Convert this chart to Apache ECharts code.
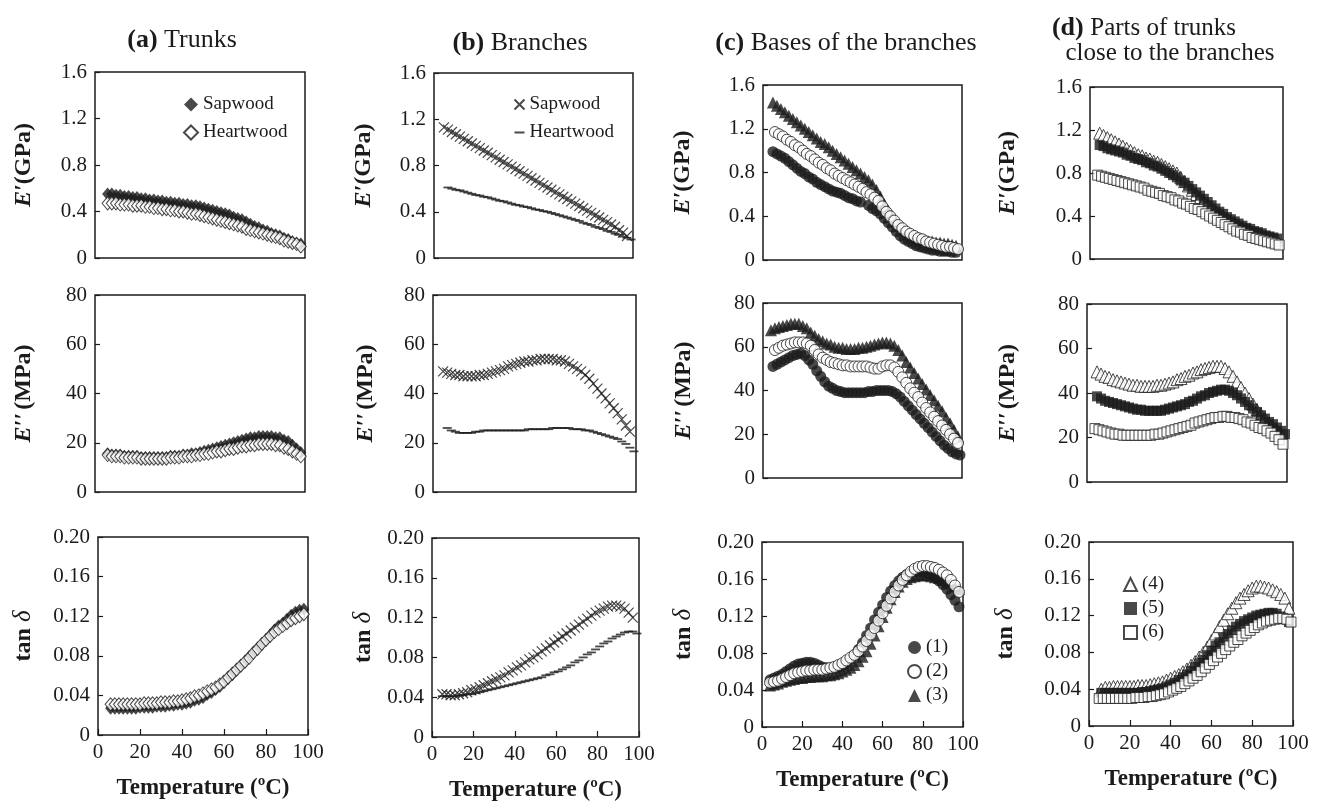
<!DOCTYPE html>
<html>
<head>
<meta charset="utf-8">
<title>Dynamic viscoelastic properties of trunks and branches</title>
<script src="https://cdn.jsdelivr.net/npm/echarts@6/dist/echarts.min.js"></script>
<style>
  html, body { margin: 0; padding: 0; background: #fff; }
  #chart { width: 1317px; height: 803px; }
</style>
</head>
<body>
<div id="chart"></div>
<script>
// temperature grids (ºC) the points were read at
const T4 = [4,6,8,10,12,14,16,18,20,22,24,26,28,30,32,34,36,38,40,42,44,46,48,50,52,54,56,58,60,62,64,66,68,70,72,74,76,78,80,82,84,86,88,90,92,94,96,98]
const T6 = [6,8,10,12,14,16,18,20,22,24,26,28,30,32,34,36,38,40,42,44,46,48,50,52,54,56,58,60,62,64,66,68,70,72,74,76,78,80,82,84,86,88,90,92,94,96,98]
const T5 = [5,7,9,11,13,15,17,19,21,23,25,27,29,31,33,35,37,39,41,43,45,47,49,51,53,55,57,59,61,63,65,67,69,71,73,75,77,79,81,83,85,87,89,91,93,95,97]
const T5to99 = [5,7,9,11,13,15,17,19,21,23,25,27,29,31,33,35,37,39,41,43,45,47,49,51,53,55,57,59,61,63,65,67,69,71,73,75,77,79,81,83,85,87,89,91,93,95,97,99]
const T7 = [7,9,11,13,15,17,19,21,23,25,27,29,31,33,35,37,39,41,43,45,47,49,51,53,55,57,59,61,63,65,67,69,71,73,75,77,79,81,83,85,87,89,91,93,95,97,99]

// (a) Trunks
const aSapE1 = [0.55,0.55,0.54,0.54,0.53,0.53,0.52,0.52,0.51,0.51, 0.50,0.50,0.49,0.49,0.48,0.48,0.47,0.47,0.46,0.46, 0.45,0.45,0.44,0.43,0.42,0.41,0.40,0.39,0.38,0.37, 0.35,0.34,0.33,0.31,0.29,0.27,0.26,0.24,0.23,0.21, 0.20,0.19,0.17,0.16,0.14,0.13,0.12]
const aHeartE1 = [0.47,0.47,0.47,0.46,0.46,0.46,0.45,0.45,0.45,0.44, 0.44,0.43,0.43,0.42,0.42,0.41,0.41,0.40,0.40,0.39, 0.38,0.38,0.37,0.36,0.35,0.34,0.33,0.32,0.31,0.30, 0.29,0.28,0.27,0.25,0.24,0.23,0.22,0.21,0.20,0.19, 0.18,0.17,0.15,0.14,0.13,0.12,0.10]
const aSapE2 = [15.5,15,15,15,14.5,14.5,14.5,14.5,14,14, 14,14,14,14,14,14.5,14.5,14.5,15,15, 15.5,15.5,16,16.5,17,17.5,18,18.5,19,19.5, 20,20.5,21,21.5,22,22,22.5,22.5,22.5,22.5, 22,22,21,20.5,19,17.5,16]
const aHeartE2 = [15,14.5,14.5,14.5,14,14,14,14,13.5,13.5, 13.5,13.5,13.5,13.5,13.5,14,14,14,14.5,14.5, 14.5,15,15,15.5,15.5,16,16.5,16.5,17,17.5, 17.5,18,18.5,18.5,19,19,19.5,19.5,19.5,19.5, 19,19,18,17.5,16.5,15.5,14.5]
const aSapTan = [0.027,0.027,0.027,0.027,0.027,0.027,0.027,0.028,0.028,0.028, 0.028,0.029,0.029,0.029,0.030,0.030,0.031,0.031,0.032,0.033, 0.035,0.036,0.038,0.041,0.043,0.046,0.049,0.053,0.057,0.061, 0.066,0.070,0.074,0.079,0.083,0.088,0.092,0.096,0.101,0.106, 0.110,0.113,0.117,0.121,0.124,0.126,0.127]
const aHeartTan = [0.031,0.031,0.031,0.031,0.031,0.031,0.031,0.031,0.032,0.032, 0.032,0.032,0.033,0.033,0.033,0.034,0.034,0.035,0.036,0.037, 0.039,0.040,0.042,0.044,0.046,0.048,0.051,0.054,0.058,0.062, 0.066,0.070,0.074,0.078,0.083,0.087,0.092,0.096,0.100,0.104, 0.107,0.110,0.113,0.116,0.118,0.120,0.122]

// (b) Branches
const bSapE1 = [1.13,1.11,1.09,1.07,1.05,1.03,1.01,0.99,0.97,0.95, 0.93,0.91,0.89,0.87,0.85,0.83,0.81,0.79,0.77,0.75, 0.73,0.71,0.69,0.67,0.65,0.63,0.61,0.59,0.57,0.55, 0.53,0.51,0.49,0.47,0.45,0.43,0.41,0.39,0.37,0.35, 0.33,0.31,0.29,0.27,0.24,0.22,0.19]
const bHeartE1 = [0.61,0.60,0.59,0.585,0.575,0.565,0.555,0.545,0.54,0.53, 0.525,0.515,0.505,0.495,0.49,0.48,0.47,0.46,0.455,0.445, 0.44,0.43,0.42,0.415,0.405,0.40,0.39,0.38,0.37,0.36, 0.35,0.34,0.33,0.32,0.305,0.295,0.285,0.27,0.26,0.25, 0.235,0.225,0.21,0.20,0.185,0.175,0.16]
const bSapE2 = [49,48.5,48,47.5,47.5,47,47,47,47,47.5, 47.5,48,48.5,49,49.5,50,51,51.5,52,52.5, 53,53,53.5,53.5,54,54,54,54,53.5,53.5, 53,52,51,50,49,47.5,46,44,42,40, 38,36,34,32,29.5,27,24.5]
const bHeartE2 = [26,25,24.5,24,24,24,24,24.5,24.5,25, 25,25,25,25,25,25,25,25,25,25, 25.5,25.5,25.5,25.5,25.5,25.5,26,26,26,26, 26,25.5,25.5,25.5,25,25,24.5,24,23.5,23, 22.5,22,21.5,20.5,19.5,18,16.5]
const bSapTan = [0.043,0.043,0.042,0.042,0.043,0.044,0.045,0.047,0.048,0.050, 0.052,0.054,0.056,0.058,0.060,0.062,0.065,0.067,0.070,0.072, 0.075,0.078,0.080,0.083,0.086,0.089,0.092,0.095,0.098,0.101, 0.104,0.107,0.110,0.113,0.116,0.119,0.122,0.125,0.127,0.129, 0.131,0.132,0.132,0.131,0.129,0.125,0.120]
const bHeartTan = [0.041,0.041,0.041,0.041,0.042,0.042,0.043,0.043,0.044,0.045, 0.046,0.047,0.048,0.049,0.050,0.051,0.052,0.053,0.054,0.055, 0.056,0.057,0.058,0.059,0.060,0.062,0.063,0.065,0.066,0.068, 0.070,0.072,0.075,0.077,0.080,0.083,0.085,0.088,0.091,0.094, 0.096,0.099,0.101,0.103,0.105,0.106,0.106,0.104]

// (c) Bases of the branches, samples (1)-(3)
const cE1s1 = [0.99,0.97,0.95,0.93,0.90,0.87,0.84,0.81,0.79,0.76, 0.74,0.71,0.69,0.67,0.65,0.63,0.62,0.61,0.59,0.57, 0.56,0.54,0.53,null,0.50,0.47,0.45,0.42,0.38,0.34, 0.30,0.26,0.22,0.19,0.17,0.15,0.13,0.12,0.11,0.10, 0.09,0.09,0.08,0.08,0.08,0.07,0.07]
const cE1s2 = [1.17,1.15,1.13,1.10,1.08,1.05,1.03,1.00,0.97,0.95, 0.92,0.89,0.87,0.84,0.82,0.79,0.77,0.75,0.73,0.71, 0.69,0.67,0.65,0.62,0.60,0.57,0.54,0.49,0.44,0.40, 0.36,0.32,0.29,0.26,0.24,0.22,0.20,0.19,0.17,0.16, 0.15,0.14,0.13,0.12,0.12,0.11,0.10]
const cE1s3 = [1.44,1.41,1.38,1.35,1.32,1.29,1.26,1.23,1.20,1.17, 1.14,1.11,1.08,1.06,1.03,1.00,0.97,0.94,0.91,0.88, 0.85,0.82,0.79,0.76,0.73,0.69,0.64,0.58,0.51,0.45, 0.40,0.35,0.31,0.27,0.24,0.22,0.20,0.19,0.18,0.17, 0.17,0.16,0.16,0.15,0.15,0.14,0.13]
const cE2s1 = [51,52,53,54,55,56,56.5,57,56,54, 52,49,46.5,44,42,41,40,39.5,39,39, 39,39,39,39,39.5,39.5,40,40,40,40, 39.5,38.5,37,35,33,31,29,27,25,23, 21,19,17,15,13.5,12,11,10.5]
const cE2s2 = [58.5,59.5,60.5,61,61.5,62,62,62,61.5,60.5, 58.5,56.5,55,54,53,52.5,52,51.5,51.5,51, 51,51,51,51,50.5,50,50,51,51.5,51.5, 50.5,48.5,46,43.5,41,39,37,34.5,32,30, 28,26,24,22,20,18,16]
const cE2s3 = [67.5,68.5,69,69.5,70,70.5,70.5,70.5,69.5,68.5, 66.5,65,63.5,62.5,61.5,61,60,59.5,59.5,59, 59,59,59.5,59.5,60,60.5,61,61.5,62,62, 61.5,60.5,58.5,56,53,50.5,48,45.5,43,40.5, 38,35.5,33,30.5,27.5,25,22,19]
const cTans1 = [0.051,0.053,0.055,0.057,0.060,0.063,0.066,0.068,0.069,0.070, 0.070,0.069,0.067,0.065,0.064,0.063,0.063,0.064,0.066,0.069, 0.073,0.078,0.084,0.091,0.099,0.107,0.116,0.124,0.132,0.140, 0.147,0.153,0.158,0.162,0.165,0.167,0.168,0.168,0.168,0.167, 0.165,0.162,0.158,0.154,0.149,0.143,0.137,0.130]
const cTans2 = [0.048,0.049,0.050,0.052,0.054,0.056,0.058,0.059,0.060,0.061, 0.061,0.062,0.062,0.062,0.063,0.064,0.065,0.067,0.069,0.072, 0.075,0.078,0.082,0.087,0.093,0.100,0.107,0.115,0.123,0.131, 0.139,0.146,0.153,0.159,0.164,0.168,0.171,0.173,0.174,0.174, 0.173,0.172,0.170,0.167,0.164,0.159,0.153,0.146]
const cTans3 = [0.045,0.046,0.047,0.049,0.050,0.051,0.052,0.053,0.053,0.054, 0.054,0.055,0.055,0.055,0.056,0.056,0.057,0.058,0.060,0.062, 0.064,0.067,0.071,0.076,0.082,0.090,0.099,0.109,0.119,0.129, 0.138,0.146,0.152,0.157,0.160,0.162,0.163,0.164,0.164,0.164, 0.163,0.162,0.161,0.159,0.157,0.155,0.152,0.149]

// (d) Parts of trunks close to the branches, samples (4)-(6)
const dE1s4 = [1.17,1.15,1.13,1.11,1.09,1.07,1.05,1.03,1.01,0.99, 0.97,0.96,0.94,0.93,0.91,0.90,0.88,0.86,0.84,0.82, 0.80,0.76,0.72,0.68,0.64,0.60,0.57,0.54,0.51,0.48, 0.45,0.42,0.40,0.37,0.35,0.33,0.31,0.29,0.27,0.26, 0.24,0.23,0.22,0.21,0.20,0.19,0.18]
const dE1s5 = [1.06,1.05,1.03,1.02,1.01,1.00,0.99,0.97,0.96,0.94, 0.93,0.92,0.90,0.89,0.87,0.86,0.84,0.82,0.80,0.78, 0.76,0.73,0.71,0.68,0.65,0.62,0.59,0.56,0.53,0.50, 0.47,0.44,0.42,0.39,0.37,0.35,0.33,0.31,0.29,0.28, 0.26,0.25,0.24,0.22,0.21,0.20,0.19]
const dE1s6 = [0.78,0.77,0.76,0.75,0.74,0.73,0.72,0.71,0.70,0.69, 0.68,0.67,0.66,0.64,0.63,0.62,0.61,0.59,0.58,0.57, 0.55,0.54,0.52,0.51,0.49,0.47,0.46,0.44,0.42,0.40, 0.38,0.36,0.34,0.32,0.30,0.28,0.26,0.25,0.23,0.22, 0.20,0.19,0.18,0.17,0.16,0.15,0.14,0.13]
const dE2s4 = [49.5,48.5,47.5,47,46,45.5,45,44.5,44,43.5, 43.5,43,43,43,43,43.5,43.5,44,44.5,45, 46,46.5,47.5,48,49,49.5,50.5,51,51.5,52, 52,52,51,49.5,47.5,45,42.5,40,37.5,35, 32.5,30.5,28.5,26.5,25,23.5,22]
const dE2s5 = [38.5,37.5,36.5,36,35.5,35,34.5,34,33.5,33, 32.5,32.5,32,32,32,32,32,32.5,33,33.5, 34,34.5,35,36,36.5,37.5,38.5,39,40,40.5, 41,41.5,41.5,41,40,39,37.5,36,34.5,33, 31.5,30,28.5,27,26,24.5,23,21.5]
const dE2s6 = [24,23.5,23,22.5,22,21.5,21.5,21,21,21, 21,21,21,21,21,21.5,21.5,22,22.5,23, 23.5,24,24.5,25,25.5,26.5,27,27.5,28,28.5, 29,29,29.5,29.5,29,29,28.5,28,27,26.5, 25.5,24.5,24,23,22,20.5,19,17]
const dTans4 = [0.040,0.042,0.042,0.043,0.043,0.043,0.043,0.043,0.043,0.044, 0.044,0.044,0.045,0.046,0.047,0.048,0.050,0.052,0.054,0.056, 0.059,0.062,0.066,0.070,0.075,0.080,0.086,0.093,0.100,0.108, 0.115,0.122,0.128,0.134,0.139,0.143,0.147,0.150,0.152,0.152, 0.151,0.150,0.148,0.146,0.143,0.139,0.128]
const dTans5 = [0.036,0.036,0.036,0.036,0.036,0.036,0.036,0.036,0.036,0.036, 0.037,0.037,0.038,0.039,0.040,0.041,0.043,0.045,0.047,0.050, 0.053,0.056,0.060,0.064,0.068,0.072,0.077,0.082,0.087,0.091, 0.096,0.100,0.104,0.108,0.111,0.114,0.116,0.118,0.120,0.121, 0.122,0.123,0.123,0.122,0.119,0.116,0.113]
const dTans6 = [0.030,0.030,0.030,0.030,0.030,0.030,0.030,0.030,0.030,0.031, 0.031,0.031,0.032,0.032,0.033,0.034,0.035,0.037,0.039,0.041, 0.043,0.046,0.049,0.052,0.055,0.059,0.063,0.067,0.071,0.075, 0.079,0.083,0.087,0.091,0.094,0.098,0.101,0.104,0.107,0.110, 0.112,0.114,0.115,0.116,0.117,0.117,0.116,0.113]

const FONT = '"Liberation Serif", "Times New Roman", Times, serif'
const INK = '#1b1b1b'

// marker styles
const MARK = {
  fDiamond: { symbol: 'diamond', symbolSize: [11, 13], itemStyle: { color: INK } },
  oDiamond: { symbol: 'diamond', symbolSize: [11, 13], itemStyle: { color: '#fff', borderColor: INK, borderWidth: 1 } },
  cross: { symbol: 'path://M0,0L10,10M10,0L0,10', symbolSize: 10, itemStyle: { color: 'none', borderColor: INK, borderWidth: 1.2 } },
  dash: { symbol: 'path://M0,0M0,4h10v2h-10zM10,10', symbolSize: 9, itemStyle: { color: INK } },
  fCircle: { symbol: 'circle', symbolSize: 11, itemStyle: { color: INK } },
  oCircle: { symbol: 'circle', symbolSize: 11, itemStyle: { color: '#fff', borderColor: INK, borderWidth: 1 } },
  fTri: { symbol: 'triangle', symbolSize: 12, itemStyle: { color: INK } },
  oTri: { symbol: 'triangle', symbolSize: 12, itemStyle: { color: '#fff', borderColor: INK, borderWidth: 1 } },
  fSquare: { symbol: 'rect', symbolSize: 10, itemStyle: { color: INK } },
  oSquare: { symbol: 'rect', symbolSize: 10, itemStyle: { color: '#fff', borderColor: INK, borderWidth: 1 } }
}

// y scales per row: E', E'', tan δ
const ROWS = [
  { min: 0, max: 1.6, interval: 0.4, digits: 1, name: '{i|E′}{b|(GPa)}' },
  { min: 0, max: 80, interval: 20, digits: 0, name: '{i|E′′} {b|(MPa)}' },
  { min: 0, max: 0.2, interval: 0.04, digits: 2, name: '{b|tan}{d| δ}' }
]

// panel boxes [left, top, width, height]; series drawn in list order
const panels = [
  { row: 0, box: [95, 72, 210, 186], gap: 59, series: [['a1:Sapwood', T6, aSapE1, 'fDiamond'], ['a1:Heartwood', T6, aHeartE1, 'oDiamond']] },
  { row: 1, box: [95, 295, 210, 197], gap: 59, series: [['a2:Sapwood', T6, aSapE2, 'fDiamond'], ['a2:Heartwood', T6, aHeartE2, 'oDiamond']] },
  { row: 2, box: [98, 537, 210, 198], gap: 62, series: [['a3:Sapwood', T6, aSapTan, 'fDiamond'], ['a3:Heartwood', T6, aHeartTan, 'oDiamond']] },

  { row: 0, box: [434, 73, 199, 185], gap: 58, series: [['b1:Sapwood', T5, bSapE1, 'cross'], ['b1:Heartwood', T7, bHeartE1, 'dash']] },
  { row: 1, box: [433, 295, 203, 197], gap: 55, series: [['b2:Sapwood', T5, bSapE2, 'cross'], ['b2:Heartwood', T7, bHeartE2, 'dash']] },
  { row: 2, box: [432, 538, 207, 199], gap: 56, series: [['b3:Sapwood', T5, bSapTan, 'cross'], ['b3:Heartwood', T5to99, bHeartTan, 'dash']] },

  { row: 0, box: [763, 85, 199, 175], gap: 68, series: [['c1:(3)', T5, cE1s3, 'fTri'], ['c1:(1)', T5, cE1s1, 'fCircle'], ['c1:(2)', T6, cE1s2, 'oCircle']] },
  { row: 1, box: [763, 303, 199, 175], gap: 67, series: [['c2:(3)', T4, cE2s3, 'fTri'], ['c2:(1)', T5to99, cE2s1, 'fCircle'], ['c2:(2)', T6, cE2s2, 'oCircle']] },
  { row: 2, box: [762, 542, 201, 185], gap: 66, series: [['c3:(3)', T4, cTans3, 'fTri'], ['c3:(1)', T4, cTans1, 'fCircle'], ['c3:(2)', T4, cTans2, 'oCircle']] },

  { row: 0, box: [1090, 87, 193, 172], gap: 70, series: [['d1:(4)', T5, dE1s4, 'oTri'], ['d1:(5)', T5, dE1s5, 'fSquare'], ['d1:(6)', T4, dE1s6, 'oSquare']] },
  { row: 1, box: [1087, 304, 200, 178], gap: 67, series: [['d2:(4)', T5, dE2s4, 'oTri'], ['d2:(5)', T5to99, dE2s5, 'fSquare'], ['d2:(6)', T4, dE2s6, 'oSquare']] },
  { row: 2, box: [1089, 542, 204, 184], gap: 71, series: [['d3:(4)', T6, dTans4, 'oTri'], ['d3:(5)', T6, dTans5, 'fSquare'], ['d3:(6)', T5to99, dTans6, 'oSquare']] }
]

const legends = [
  { names: ['a1:Sapwood', 'a1:Heartwood'], left: 178, top: 90, gap: 9, size: 14 },
  { names: ['b1:Sapwood', 'b1:Heartwood'], left: 507, top: 90, gap: 9, size: 10 },
  { names: ['c3:(1)', 'c3:(2)', 'c3:(3)'], left: 902, top: 633, gap: 5, size: 13 },
  { names: ['d3:(4)', 'd3:(5)', 'd3:(6)'], left: 1118, top: 570, gap: 5, size: 13 }
]

function pairs(t, v) {
  if (t.length !== v.length) console.warn('length mismatch', t.length, v.length)
  const out = []
  for (let i = 0; i < t.length; i++) {
    if (v[i] != null) out.push([t[i], v[i]])
  }
  return out
}

function fmt(digits) {
  return v => (v === 0 ? '0' : v.toFixed(digits))
}

const nameRich = {
  i: { fontFamily: FONT, fontSize: 24, fontWeight: 'bold', fontStyle: 'italic', color: INK },
  b: { fontFamily: FONT, fontSize: 24, fontWeight: 'bold', color: INK },
  d: { fontFamily: FONT, fontSize: 25, fontStyle: 'italic', color: INK }
}

const grids = []
const xAxes = []
const yAxes = []
const series = []

panels.forEach((p, k) => {
  const r = ROWS[p.row]
  const bottom = p.row === 2
  grids.push({
    left: p.box[0], top: p.box[1], width: p.box[2], height: p.box[3],
    show: true, borderColor: INK, borderWidth: 1.5, backgroundColor: 'transparent'
  })
  xAxes.push({
    type: 'value', gridIndex: k, min: 0, max: 100, interval: 20,
    axisLine: { show: false },
    splitLine: { show: false },
    axisTick: { show: bottom, inside: true, length: 6, lineStyle: { color: INK, width: 1.2 } },
    axisLabel: { show: bottom, fontFamily: FONT, fontSize: 21, color: INK, margin: 7 },
    name: bottom ? 'Temperature (ºC)' : '',
    nameLocation: 'middle', nameGap: 42,
    nameTextStyle: { fontFamily: FONT, fontSize: 23, fontWeight: 'bold', color: INK }
  })
  yAxes.push({
    type: 'value', gridIndex: k, min: r.min, max: r.max, interval: r.interval,
    axisLine: { show: false },
    splitLine: { show: false },
    axisTick: { show: true, inside: true, length: 5, lineStyle: { color: INK, width: 1.2 } },
    axisLabel: { fontFamily: FONT, fontSize: 21, color: INK, margin: 8, formatter: fmt(r.digits) },
    name: r.name, nameLocation: 'middle', nameRotate: 90, nameGap: p.gap,
    nameTextStyle: { rich: nameRich }
  })
  p.series.forEach(([name, t, v, mark]) => {
    const m = MARK[mark]
    series.push({
      type: 'scatter', name, xAxisIndex: k, yAxisIndex: k,
      symbol: m.symbol, symbolSize: m.symbolSize, itemStyle: m.itemStyle,
      data: pairs(t, v), silent: true
    })
  })
})

const titleRich = {
  b: { fontFamily: FONT, fontSize: 26, fontWeight: 'bold', fill: INK, color: INK },
  r: { fontFamily: FONT, fontSize: 26, fill: INK, color: INK },
  s: { fontFamily: FONT, fontSize: 25, fill: INK, color: INK }
}

function titleText(x, y, text) {
  return {
    type: 'text', x, y,
    style: { text, rich: titleRich, fontFamily: FONT, fontSize: 26, fill: INK, align: 'center', verticalAlign: 'middle' }
  }
}

const option = {
  backgroundColor: '#fff',
  animation: false,
  grid: grids,
  xAxis: xAxes,
  yAxis: yAxes,
  series,
  legend: legends.map(l => ({
    data: l.names,
    left: l.left, top: l.top,
    orient: 'vertical',
    itemGap: l.gap,
    itemWidth: l.size, itemHeight: l.size,
    selectedMode: false,
    formatter: name => name.split(':')[1],
    textStyle: { fontFamily: FONT, fontSize: 19, color: INK }
  })),
  graphic: [
    titleText(182, 40, '{b|(a)} {r|Trunks}'),
    titleText(520, 43, '{b|(b)} {r|Branches}'),
    titleText(846, 43, '{b|(c)} {r|Bases of the branches}'),
    titleText(1144, 28, '{b|(d)} {s|Parts of trunks}'),
    titleText(1170, 53, '{s|close to the branches}')
  ]
}

const chart = echarts.init(document.getElementById('chart'))
chart.setOption(option)
window.addEventListener('resize', () => chart.resize())
</script>
</body>
</html>
